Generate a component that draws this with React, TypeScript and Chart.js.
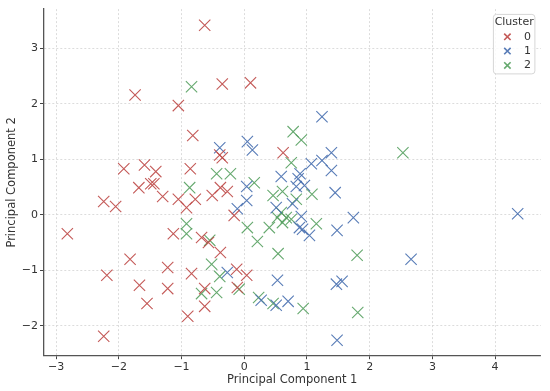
import React, { useEffect, useRef } from 'react';
import { Chart, registerables } from 'chart.js';

Chart.register(...registerables);

// ---- data ----
const clusterLabels = ['0', '1', '2'];
const clusterColors = ['rgba(190,72,70,0.9)', 'rgba(70,110,175,0.9)', 'rgba(85,160,95,0.9)'];

const c0PC1 = [-0.63, -0.35, 0.10, -1.74, -1.05, -0.82, -0.39, -0.35, -1.92, -1.59, -1.41, -0.86, -1.68, -1.49, -1.44, -0.38, -0.27, -1.30, -1.05, -0.78, -0.51, -2.24, -2.05, -0.92, -0.16, 0.62, -2.82, -1.13, -0.68, -0.57, -0.38, -1.82, -1.22, -0.84, -2.19, -0.12, 0.04, -1.67, -1.22, -0.63, -0.11, -1.55, -0.63, -0.90, -2.24];
const c0PC2 = [3.42, 2.36, 2.38, 2.16, 1.97, 1.43, 1.08, 1.03, 0.83, 0.90, 0.78, 0.83, 0.49, 0.56, 0.56, 0.49, 0.42, 0.33, 0.28, 0.28, 0.35, 0.24, 0.15, 0.13, -0.01, 1.12, -0.34, -0.34, -0.41, -0.50, -0.68, -0.80, -0.95, -1.06, -1.09, -0.98, -1.09, -1.27, -1.33, -1.33, -1.31, -1.60, -1.65, -1.83, -2.19];

const c1PC1 = [0.05, 0.13, -0.39, 0.04, 0.04, -0.11, 1.24, 1.39, 1.24, 1.07, 1.39, 0.59, 0.89, 0.86, 0.83, 0.96, 1.45, 0.51, 0.77, 0.91, 1.74, 0.88, 0.93, 1.04, 1.48, 4.36, 2.66, 0.53, 1.47, 1.56, 0.51, 0.70, 0.27, 1.48, -0.27];
const c1PC2 = [1.32, 1.17, 1.21, 0.51, 0.26, 0.11, 1.77, 1.12, 0.98, 0.92, 0.80, 0.69, 0.74, 0.65, 0.51, 0.53, 0.40, 0.13, 0.20, -0.03, -0.05, -0.23, -0.26, -0.37, -0.28, 0.02, -0.80, -1.18, -1.25, -1.20, -1.63, -1.56, -1.54, -2.26, -1.04];

const c2PC1 = [-0.84, -0.44, -0.22, -0.87, 0.16, 0.46, 0.78, 0.91, 2.53, 0.75, 0.61, 1.08, 0.83, 0.59, 0.53, 0.67, 0.75, 0.61, 1.15, 0.40, 0.21, -0.92, -0.92, 0.05, -0.55, -0.52, -0.39, -0.68, -0.44, -0.08, 0.54, 1.80, 0.94, 1.81, 0.23, 0.46];
const c2PC2 = [2.31, 0.74, 0.74, 0.49, 0.58, 0.35, 1.50, 1.35, 1.12, 0.94, 0.42, 0.37, 0.28, 0.04, -0.05, -0.05, -0.08, -0.14, -0.16, -0.23, -0.48, -0.16, -0.34, -0.23, -0.46, -0.89, -1.11, -1.42, -1.40, -1.34, -0.70, -0.73, -1.69, -1.76, -1.49, -1.60];

const xTicks = [-3, -2, -1, 0, 1, 2, 3, 4];
const yTicks = [-2, -1, 0, 1, 2, 3];
const xLimits = [-3.2, 4.73];
const yLimits = [-2.54, 3.71];

const xTitle = 'Principal Component 1';
const yTitle = 'Principal Component 2';
const legendTitle = 'Cluster';

const FONT = 'DejaVu Sans';
const TEXT = '#333333';

const fmt = (v: number) => String(v).replace('-', '\u2212');

const legendPlugin = {
  id: 'clusterLegend',
  afterDraw(chart: any) {
    const ctx = chart.ctx;
    const area = chart.chartArea;
    const w = 41.5;
    const h = 59.5;
    const x0 = area.right - 6 - w;
    const y0 = area.top + 5.3;
    ctx.save();
    ctx.beginPath();
    const r = 3;
    ctx.moveTo(x0 + r, y0);
    ctx.lineTo(x0 + w - r, y0);
    ctx.arcTo(x0 + w, y0, x0 + w, y0 + r, r);
    ctx.lineTo(x0 + w, y0 + h - r);
    ctx.arcTo(x0 + w, y0 + h, x0 + w - r, y0 + h, r);
    ctx.lineTo(x0 + r, y0 + h);
    ctx.arcTo(x0, y0 + h, x0, y0 + h - r, r);
    ctx.lineTo(x0, y0 + r);
    ctx.arcTo(x0, y0, x0 + r, y0, r);
    ctx.closePath();
    ctx.fillStyle = 'rgba(255,255,255,0.85)';
    ctx.fill();
    ctx.strokeStyle = '#d6d6d6';
    ctx.lineWidth = 1;
    ctx.stroke();

    ctx.fillStyle = TEXT;
    ctx.font = `11px "${FONT}"`;
    ctx.textAlign = 'center';
    ctx.textBaseline = 'middle';
    ctx.fillText(legendTitle, x0 + w / 2, y0 + 7.7);

    clusterLabels.forEach((lab, i) => {
      const cy = y0 + 22.4 + i * 14.3;
      const cx = x0 + 14;
      const s = 3.2;
      ctx.strokeStyle = clusterColors[i];
      ctx.lineWidth = 1.6;
      ctx.beginPath();
      ctx.moveTo(cx - s, cy - s);
      ctx.lineTo(cx + s, cy + s);
      ctx.moveTo(cx - s, cy + s);
      ctx.lineTo(cx + s, cy - s);
      ctx.stroke();
      ctx.fillStyle = TEXT;
      ctx.textAlign = 'right';
      ctx.fillText(lab, x0 + w - 4, cy);
    });
    ctx.restore();
  },
};

export default function App() {
  const ref = useRef<HTMLCanvasElement | null>(null);

  useEffect(() => {
    document.body.style.margin = '0';
    const canvas = ref.current;
    if (!canvas) return;

    const series = [
      [c0PC1, c0PC2],
      [c1PC1, c1PC2],
      [c2PC1, c2PC2],
    ];

    const datasets = series.map(([xs, ys], i) => ({
      label: clusterLabels[i],
      data: xs.map((x, k) => ({ x, y: ys[k] })),
      pointStyle: 'crossRot',
      pointRadius: 8,
      pointHoverRadius: 8,
      borderColor: clusterColors[i],
      backgroundColor: clusterColors[i],
      pointBorderColor: clusterColors[i],
      pointBackgroundColor: clusterColors[i],
      pointHoverBorderColor: clusterColors[i],
      pointHoverBackgroundColor: clusterColors[i],
      pointBorderWidth: 1.1,
      pointHoverBorderWidth: 1.1,
      showLine: false,
    }));

    const gridCommon = {
      color: '#d4d4d4',
      lineWidth: 0.8,
      tickColor: '#444444',
      tickLength: 3.5,
      tickWidth: 1,
      tickBorderDash: [],
    };

    const chart = new Chart(canvas, {
      type: 'scatter',
      data: { datasets },
      plugins: [legendPlugin],
      options: {
        responsive: false,
        animation: false,
        events: [],
        layout: { padding: { top: 8, right: 7.3, left: 0, bottom: 0 } },
        plugins: {
          legend: { display: false },
          tooltip: { enabled: false },
          colors: { enabled: false },
        },
        scales: {
          x: {
            type: 'linear',
            min: xLimits[0],
            max: xLimits[1],
            afterBuildTicks: (scale: any) => {
              scale.ticks = xTicks.map((v) => ({ value: v }));
            },
            afterFit: (scale: any) => {
              scale.height = 35.3;
            },
            grid: gridCommon,
            border: { display: true, color: '#555555', width: 1.3, dash: [2, 2] },
            ticks: {
              color: TEXT,
              font: { family: FONT, size: 11 },
              padding: 1,
              maxRotation: 0,
              callback: (v: any) => fmt(v),
            },
            title: {
              display: true,
              text: xTitle,
              color: TEXT,
              font: { family: FONT, size: 11.5 },
              padding: { top: 0, bottom: 4 },
            },
          },
          y: {
            type: 'linear',
            min: yLimits[0],
            max: yLimits[1],
            afterBuildTicks: (scale: any) => {
              scale.ticks = yTicks.map((v) => ({ value: v }));
            },
            afterFit: (scale: any) => {
              scale.width = 43.5;
            },
            grid: gridCommon,
            border: { display: true, color: '#555555', width: 1.3, dash: [2, 2] },
            ticks: {
              color: TEXT,
              font: { family: FONT, size: 11 },
              padding: 2,
              callback: (v: any) => fmt(v),
            },
            title: {
              display: true,
              text: yTitle,
              color: TEXT,
              font: { family: FONT, size: 11.5 },
              padding: { top: 5, bottom: 0 },
            },
          },
        },
      },
    } as any);

    return () => chart.destroy();
  }, []);

  return (
    <div style={{ width: 550, height: 391, position: 'relative' }}>
      <canvas ref={ref} width={550} height={391} />
    </div>
  );
}
